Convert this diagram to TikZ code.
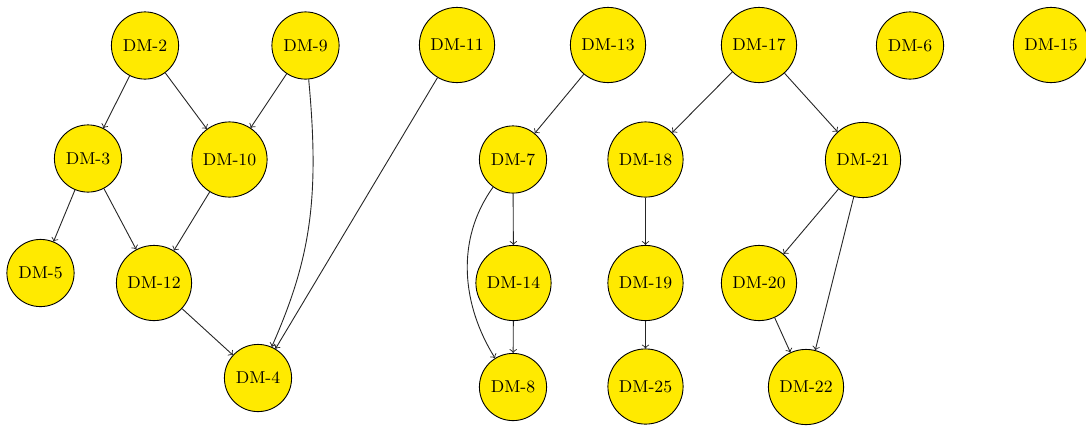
\documentclass[tikz,border=0pt]{standalone}
\usetikzlibrary{arrows}
\definecolor{dmfill}{RGB}{255,234,0}
\tikzset{
  dm/.style={circle, draw=black, fill=dmfill, line width=0.45pt, inner sep=0pt,
             font=\fontsize{8.6}{10}\selectfont},
  small/.style={dm, minimum size=33.6pt},
  big/.style={dm, minimum size=37.6pt},
  link/.style={->, >=to, line width=0.45pt, black!85}
}
\begin{document}
\begin{tikzpicture}[x=0.5pt, y=-0.5pt]
\useasboundingbox (0,0) rectangle (1086,425);
% top row
\node[small] (dm2)  at (145,45.5)  {DM-2};
\node[small] (dm9)  at (305.5,45.5) {DM-9};
\node[big]   (dm11) at (457,45)    {DM-11};
\node[big]   (dm13) at (608,45)    {DM-13};
\node[big]   (dm17) at (759,45)    {DM-17};
\node[small] (dm6)  at (910,45.5)  {DM-6};
\node[big]   (dm15) at (1051,45)   {DM-15};
% second row
\node[small] (dm3)  at (88,158.5)  {DM-3};
\node[big]   (dm10) at (229.5,159.5) {DM-10};
\node[small] (dm7)  at (513,159.5) {DM-7};
\node[big]   (dm18) at (645.5,159.5) {DM-18};
\node[big]   (dm21) at (863,160)   {DM-21};
% third row
\node[small] (dm5)  at (40.5,273)  {DM-5};
\node[big]   (dm12) at (154,283)   {DM-12};
\node[big]   (dm14) at (513.5,283) {DM-14};
\node[big]   (dm19) at (645.5,283) {DM-19};
\node[big]   (dm20) at (759,283)   {DM-20};
% bottom row
\node[small] (dm4)  at (258,378)   {DM-4};
\node[small] (dm8)  at (513,387)   {DM-8};
\node[big]   (dm25) at (645.5,386.5) {DM-25};
\node[big]   (dm22) at (806,387)   {DM-22};
% edges
\draw[link] (dm2) -- (dm3);
\draw[link] (dm2) -- (dm10);
\draw[link] (dm9) -- (dm10);
\draw[link] (dm9) .. controls (320,200) and (310,260) .. (dm4);
\draw[link] (dm11) -- (dm4);
\draw[link] (dm3) -- (dm5);
\draw[link] (dm3) -- (dm12);
\draw[link] (dm10) -- (dm12);
\draw[link] (dm12) -- (dm4);
\draw[link] (dm13) -- (dm7);
\draw[link] (dm7) -- (dm14);
\draw[link] (dm7) .. controls (455,240) and (462,305) .. (dm8);
\draw[link] (dm14) -- (dm8);
\draw[link] (dm17) -- (dm18);
\draw[link] (dm17) -- (dm21);
\draw[link] (dm18) -- (dm19);
\draw[link] (dm19) -- (dm25);
\draw[link] (dm21) -- (dm20);
\draw[link] (dm21) -- (dm22);
\draw[link] (dm20) -- (dm22);
\end{tikzpicture}
\end{document}
